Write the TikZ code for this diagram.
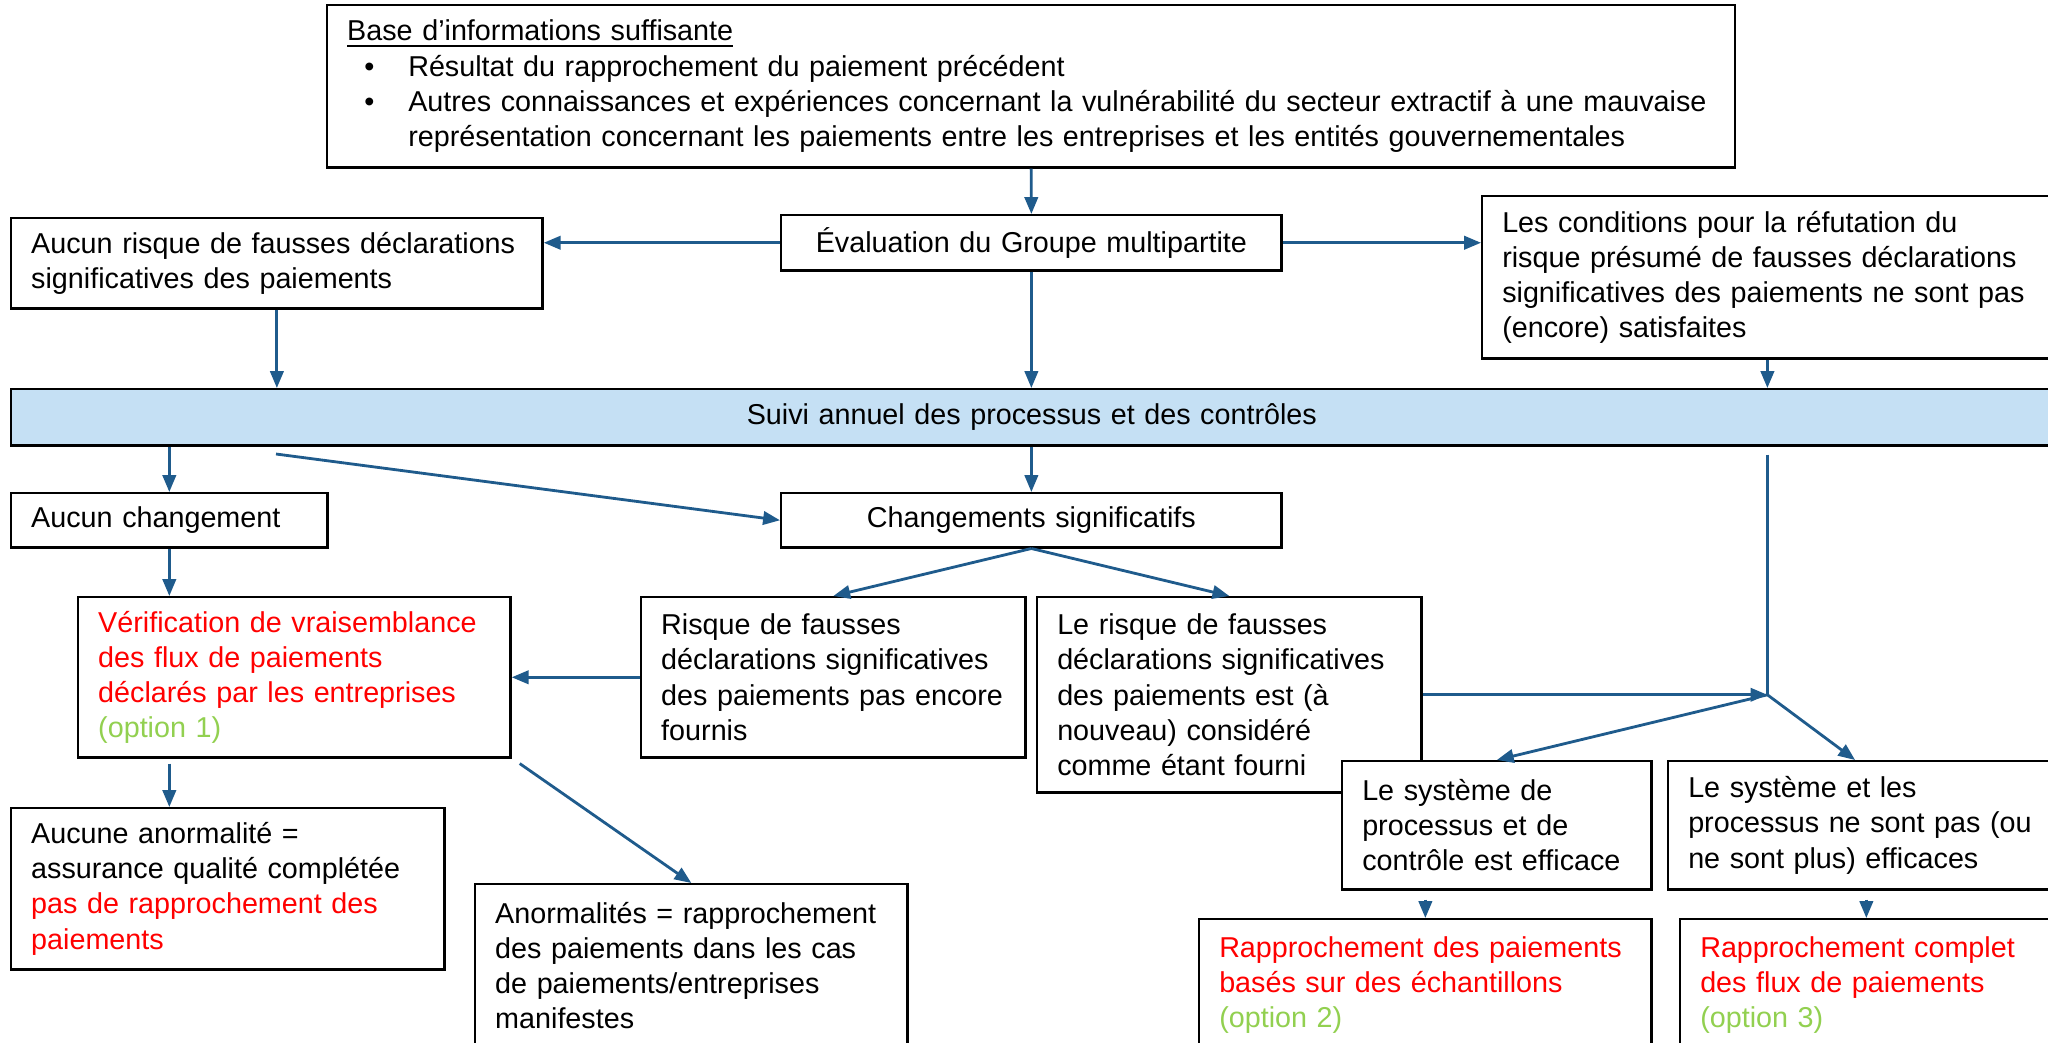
\documentclass[tikz,border=0pt]{standalone}
\usepackage{fontspec}
\setmainfont{Liberation Sans}
\usetikzlibrary{arrows.meta,positioning,calc}

\definecolor{arrowblue}{RGB}{31,91,140}
\definecolor{barblue}{RGB}{197,224,244}
\definecolor{optgreen}{RGB}{146,208,80}

\hyphenpenalty=10000
\exhyphenpenalty=10000

\begin{document}
\begin{tikzpicture}[x=0.01cm,y=-0.01cm,
  font=\fontsize{8.17}{10}\selectfont]
\tikzset{
     box/.style={draw, fill=white, line width=0.7pt, anchor=north west, align=left, inner xsep=0pt, inner ysep=0pt,
                 execute at begin node={\leftskip=0.2cm}},
     mid/.style={draw, fill=white, line width=0.7pt, anchor=north west, align=center, inner xsep=0pt, inner ysep=0pt},
     arr/.style={arrowblue, line width=0.8pt, -{Triangle[length=4.8pt,width=3.8pt]}}}

\useasboundingbox (0,0) rectangle (2048,1042);
\clip (0,0) rectangle (2048,1042);

% The top boxes
\node (base) [box, text width=14.07cm, minimum height=1.62cm] at (326,4)
  {\underline{Base d’informations suffisante}\\
   \hspace*{0.17cm}\makebox[0.44cm][l]{•}Résultat du rapprochement du paiement précédent\\
   \hspace*{0.17cm}\makebox[0.44cm][l]{•}Autres connaissances et expériences concernant la vulnérabilité du secteur extractif à une mauvaise\\
   \hspace*{0.61cm}représentation concernant les paiements entre les entreprises et les entités gouvernementales};
\node (eval) [mid, text width=5.0cm, minimum height=0.55cm] at (780,214)
  {Évaluation du Groupe multipartite};
\node (norisk) [box, text width=5.31cm, minimum height=0.90cm] at (10,217)
  {Aucun risque de fausses déclarations\\significatives des paiements};
\node (cond) [box, text width=5.70cm, minimum height=1.62cm] at (1481,195)
  {Les conditions pour la réfutation du\\risque présumé de fausses déclarations\\significatives des paiements ne sont pas\\(encore) satisfaites};

% The bar
\node (bar) [mid, fill=barblue, text width=20.4cm, minimum height=0.56cm] at (10,388)
  {Suivi annuel des processus et des contrôles};

% The middle boxes
\node (nochange) [box, text width=3.16cm, minimum height=0.54cm] at (10,492) {Aucun changement};
\node (sigchg) [mid, text width=5.0cm, minimum height=0.54cm] at (780,492) {Changements significatifs};
\node (verif) [box, text width=4.32cm, minimum height=1.60cm] at (77,596)
  {\color{red}Vérification de vraisemblance\\\color{red}des flux de paiements\\\color{red}déclarés par les entreprises\\\color{optgreen}(option 1)};
\node (risk) [box, text width=3.84cm, minimum height=1.60cm] at (640,596)
  {Risque de fausses\\déclarations significatives\\des paiements pas encore\\fournis};
\node (given) [box, text width=3.84cm, minimum height=1.95cm] at (1036,596)
  {Le risque de fausses\\déclarations significatives\\des paiements est (à\\nouveau) considéré\\comme étant fourni};
\node (effect) [box, text width=3.09cm, minimum height=1.28cm] at (1341,760)
  {Le système de\\processus et de\\contrôle est efficace};
\node (ineff) [box, text width=4.00cm, minimum height=1.28cm] at (1667,760)
  {Le système et les\\processus ne sont pas (ou\\ne sont plus) efficaces};

% The bottom boxes
\node (noanom) [box, text width=4.33cm, minimum height=1.61cm] at (10,807)
  {Aucune anormalité =\\assurance qualité complétée\\\color{red}pas de rapprochement des\\\color{red}paiements};
\node (anom) [box, text width=4.32cm, minimum height=1.63cm] at (474,883)
  {Anormalités = rapprochement\\des paiements dans les cas\\de paiements/entreprises\\manifestes};
\node (sample) [box, text width=4.52cm, minimum height=1.31cm] at (1198,918)
  {\color{red}Rapprochement des paiements\\\color{red}basés sur des échantillons\\\color{optgreen}(option 2)};
\node (full) [box, text width=3.72cm, minimum height=1.31cm] at (1679,918)
  {\color{red}Rapprochement complet\\\color{red}des flux de paiements\\\color{optgreen}(option 3)};

% The arrows
\draw [arr] (base.south) -- (eval.north);
\draw [arr] (eval.west) -- (eval.west -| norisk.east);
\draw [arr] (eval.east) -- (eval.east -| cond.west);
\draw [arr] (norisk.south) -- (norisk.south |- bar.north);
\draw [arr] (eval.south) -- (eval.south |- bar.north);
\draw [arr] (cond.south) -- (cond.south |- bar.north);

\draw [arr] (bar.south -| nochange.south) -- (nochange.north);
\draw [arr] (bar.south -| sigchg.north) -- (sigchg.north);
\coordinate (dstart) at (276,454);
\draw [arr] (dstart) -- (sigchg.west);

\draw [arr] (sigchg.south) -- (risk.north);
\draw [arr] (sigchg.south) -- (given.north);
\draw [arr] (risk.west) -- (risk.west -| verif.east);
\draw [arr] (nochange.south) -- (nochange.south |- verif.north);

\coordinate (junc) at (given.east -| cond.south);
\coordinate (jtop) at ([yshift=-0.08cm]bar.south -| cond.south);
\draw [arrowblue, line width=0.8pt] (jtop) -- (junc);
\draw [arr] (given.east) -- (junc);
\draw [arr] (junc) -- (effect.north);
\draw [arr] (junc) -- ([xshift=1.88cm]ineff.north west);

\draw [arr] ([yshift=-0.05cm]verif.south -| nochange.south) -- (nochange.south |- noanom.north);
\draw [arr] ([xshift=0.08cm,yshift=-0.05cm]verif.south east) -- (anom.north);
\draw [arr] ([yshift=-0.09cm]sample.north |- effect.south) -- (sample.north);
\draw [arr] ([yshift=-0.09cm]full.north |- ineff.south) -- (full.north);
\end{tikzpicture}
\end{document}
